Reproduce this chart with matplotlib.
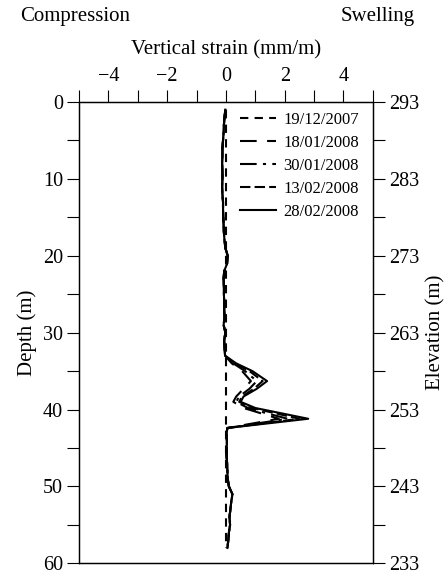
import numpy as np
import matplotlib
matplotlib.use("Agg")
import matplotlib.pyplot as plt
from matplotlib.ticker import MultipleLocator, FuncFormatter

plt.rcParams['font.family'] = ['Liberation Serif', 'DejaVu Serif']

# Depth of the measurement points (m)
depth = [1, 2, 3, 4, 5, 6, 7, 8, 9, 10, 11, 12, 13, 14, 15, 16, 17, 18, 19, 20,
         21, 22, 23, 24, 25, 26, 27, 28, 29, 30, 31, 32, 33, 34, 35,
         36.3, 37.3, 38.3, 39, 39.8, 40.5, 41.2, 42.4,
         43, 44, 45, 46, 47, 48, 49, 50, 51, 52, 53, 54, 55, 56, 57, 58]

# shared part of the profile above the swelling zone (1..33 m)
upper = [-0.02, -0.05, -0.07, -0.08, -0.10, -0.12, -0.12, -0.13, -0.12, -0.12,
         -0.13, -0.12, -0.10, -0.10, -0.09, -0.08, -0.07, -0.05, -0.02, 0.06,
         0.04, -0.06, -0.08, -0.07, -0.07, -0.06, -0.06, -0.05, -0.08, -0.02,
         -0.06, -0.05, -0.03]
# shared part below the swelling zone (43..58 m)
lower = [0.02, 0.03, 0.03, 0.02, 0.04, 0.05, 0.06, 0.10, 0.22, 0.18,
         0.15, 0.12, 0.14, 0.10, 0.08, 0.05]

# swelling zone, 34..42.4 m
zone_1801 = [0.20, 0.55, 0.85, 0.60, 0.35, 0.25, 0.60, 1.20, 1.80, 0.05]
zone_3001 = [0.25, 0.65, 1.05, 0.80, 0.45, 0.35, 0.75, 1.40, 2.10, 0.05]
zone_1302 = [0.30, 0.80, 1.25, 0.95, 0.55, 0.45, 0.90, 1.70, 2.50, 0.05]
zone_2802 = [0.35, 0.90, 1.40, 1.05, 0.60, 0.50, 1.00, 1.90, 2.80, 0.05]

strain_1912 = [0.0] * len(depth)
strain_1801 = upper + zone_1801 + lower
strain_3001 = upper + zone_3001 + lower
strain_1302 = upper + zone_1302 + lower
strain_2802 = upper + zone_2802 + lower

dates = ['19/12/2007', '18/01/2008', '30/01/2008', '13/02/2008', '28/02/2008']
series = [strain_1912, strain_1801, strain_3001, strain_1302, strain_2802]
styles = [(0, (4, 3)), (0, (8, 5)), (0, (8, 3, 1.5, 3)), (0, (5, 2)), '-']

top_elev = 293
max_depth = 60

fig = plt.figure(figsize=(4.47, 5.76), dpi=100)
ax = fig.add_axes([0.177, 0.022, 0.657, 0.801])

for s, ls, lab in zip(series, styles, dates):
    ax.plot(s, depth, color='black', linestyle=ls, linewidth=1.5, label=lab)

ax.set_xlim(-5, 5)
ax.set_ylim(max_depth, 0)

ax.xaxis.tick_top()
ax.xaxis.set_label_position('top')
ax.xaxis.set_major_locator(MultipleLocator(1))
ax.xaxis.set_major_formatter(FuncFormatter(
    lambda v, p: '' if round(v) % 2 or abs(v) > 4.5 else f'{int(round(v))}'.replace('-', '\u2212')))
ax.yaxis.set_major_locator(MultipleLocator(5))
ax.yaxis.set_major_formatter(FuncFormatter(
    lambda v, p: f'{int(v)}' if round(v) % 10 == 0 else ''))
ax.tick_params(direction='out', length=8.5, width=0.8, labelsize=14.5, pad=3)
ax.set_xlabel('Vertical strain (mm/m)', fontsize=15, labelpad=9)
ax.set_ylabel('Depth (m)', fontsize=15, labelpad=4)

# elevation axis on the right
ax2 = ax.twinx()
elev_ticks = list(range(top_elev - max_depth, top_elev + 1, 5))
ax2.set_ylim(top_elev - max_depth, top_elev)
ax2.set_yticks(elev_ticks)
ax2.set_yticklabels([str(e) if (top_elev - e) % 10 == 0 else '' for e in elev_ticks])
ax2.tick_params(direction='out', length=8.5, width=0.8, labelsize=14.5, pad=3)
ax2.set_ylabel('Elevation (m)', fontsize=15, labelpad=5)

for a in (ax, ax2):
    for sp in a.spines.values():
        sp.set_linewidth(0.9)

ax.legend(loc='upper left', bbox_to_anchor=(0.53, 0.99), frameon=False,
          fontsize=12, handlelength=2.2, handletextpad=0.4, labelspacing=0.42,
          borderaxespad=0.2, borderpad=0.1)

fig.text(0.045, 0.972, 'Compression', fontsize=15, va='center', ha='left')
fig.text(0.928, 0.972, 'Swelling', fontsize=15, va='center', ha='right')

fig.savefig('out.png', dpi=100)
